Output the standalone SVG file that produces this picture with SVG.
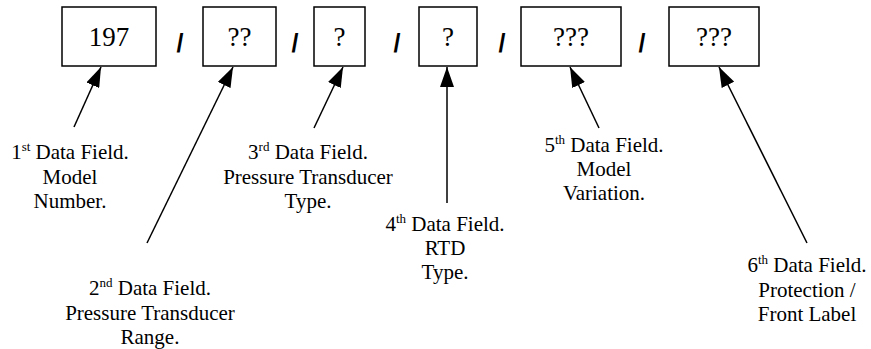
<svg xmlns="http://www.w3.org/2000/svg" width="871" height="349" viewBox="0 0 871 349">
<style>
.box{fill:#fff;stroke:#000;stroke-width:1.5}
.bt{font-family:'Liberation Serif','Times New Roman',Times,'DejaVu Serif',serif;font-size:27px;text-anchor:middle;fill:#000}
.sl{font-family:'Liberation Sans',Arial,sans-serif;font-size:25px;font-weight:bold;text-anchor:middle;fill:#000}
.lb{font-family:'Liberation Serif','Times New Roman',Times,'DejaVu Serif',serif;font-size:21px;text-anchor:middle;fill:#000}
.sup{font-size:13px}
.ar{stroke:#000;stroke-width:1.5;fill:none;marker-end:url(#ah)}
</style>
<defs>
<marker id="ah" viewBox="0 0 20 14" refX="20" refY="7" markerWidth="20" markerHeight="14" markerUnits="userSpaceOnUse" orient="auto">
<path d="M0,0 L20,7 L0,14 Z" fill="#000"/>
</marker>
</defs>
<rect width="871" height="349" fill="#fff"/>
<g id="field1"><rect class="box" x="62" y="7" width="94" height="59"/><text class="bt" x="109" y="46">197</text></g>
<g id="field2"><rect class="box" x="203" y="7" width="73" height="59"/><text class="bt" x="239.5" y="46">??</text></g>
<g id="field3"><rect class="box" x="314" y="7" width="51" height="59"/><text class="bt" x="339.5" y="46">?</text></g>
<g id="field4"><rect class="box" x="419" y="7" width="58" height="59"/><text class="bt" x="448" y="46">?</text></g>
<g id="field5"><rect class="box" x="521" y="7" width="100" height="59"/><text class="bt" x="571" y="46">???</text></g>
<g id="field6"><rect class="box" x="669" y="7" width="90" height="59"/><text class="bt" x="714" y="46">???</text></g>
<g id="separators">
<text class="sl" x="180" y="52">/</text>
<text class="sl" x="295" y="52">/</text>
<text class="sl" x="397" y="52">/</text>
<text class="sl" x="502" y="52">/</text>
<text class="sl" x="642" y="52">/</text>
</g>
<g id="label1"><text class="lb" x="70" y="159">1<tspan class="sup" dy="-8">st</tspan><tspan dy="8"> Data Field.</tspan></text><text class="lb" x="70" y="184">Model</text><text class="lb" x="70" y="208">Number.</text></g>
<g id="label2"><text class="lb" x="150" y="295">2<tspan class="sup" dy="-8">nd</tspan><tspan dy="8"> Data Field.</tspan></text><text class="lb" x="150" y="320">Pressure Transducer</text><text class="lb" x="150" y="344">Range.</text></g>
<g id="label3"><text class="lb" x="308" y="159">3<tspan class="sup" dy="-8">rd</tspan><tspan dy="8"> Data Field.</tspan></text><text class="lb" x="308" y="184">Pressure Transducer</text><text class="lb" x="308" y="208">Type.</text></g>
<g id="label4"><text class="lb" x="445" y="231">4<tspan class="sup" dy="-8">th</tspan><tspan dy="8"> Data Field.</tspan></text><text class="lb" x="445" y="255">RTD</text><text class="lb" x="445" y="279">Type.</text></g>
<g id="label5"><text class="lb" x="604" y="152">5<tspan class="sup" dy="-8">th</tspan><tspan dy="8"> Data Field.</tspan></text><text class="lb" x="604" y="176">Model</text><text class="lb" x="604" y="200">Variation.</text></g>
<g id="label6"><text class="lb" x="807" y="272">6<tspan class="sup" dy="-8">th</tspan><tspan dy="8"> Data Field.</tspan></text><text class="lb" x="807" y="297">Protection /</text><text class="lb" x="807" y="321">Front Label</text></g>
<g id="connectors">
<line class="ar" x1="74" y1="127" x2="101" y2="67"/>
<line class="ar" x1="147" y1="243" x2="233" y2="67"/>
<line class="ar" x1="314" y1="128" x2="343" y2="67"/>
<line class="ar" x1="447" y1="203" x2="447" y2="67"/>
<line class="ar" x1="599" y1="128" x2="570" y2="67"/>
<line class="ar" x1="807" y1="243" x2="719" y2="67"/>
</g>
</svg>
